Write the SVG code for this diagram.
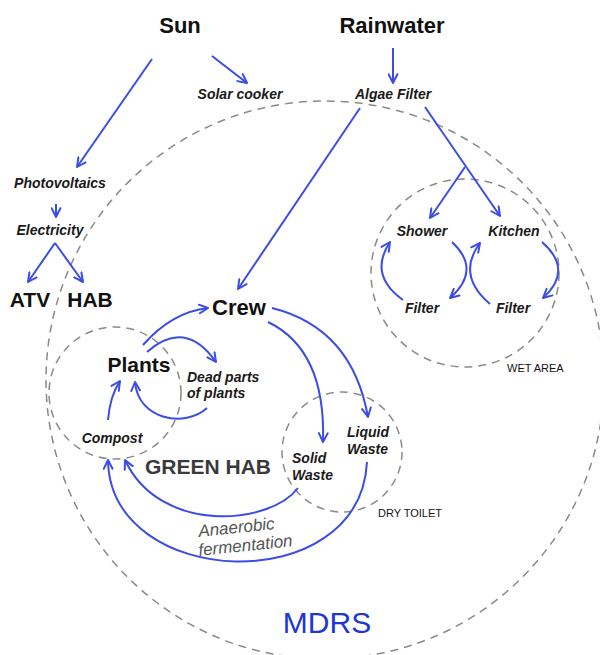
<svg xmlns="http://www.w3.org/2000/svg" width="600" height="655" viewBox="0 0 600 655">
<defs>
<style>
.bg{fill:#ffffff}
.zone{fill:none;stroke:#8a8a8a;stroke-width:1.5;stroke-dasharray:8 6}
.arr{fill:none;stroke:#3a4de4;stroke-width:2;marker-end:url(#ah)}
.big{font-family:"Liberation Sans",Arial,sans-serif;font-weight:bold;font-size:21px;fill:#111;text-anchor:middle}
.top{font-size:22px}
.lbl{font-family:"Liberation Sans",Arial,sans-serif;font-weight:bold;font-style:italic;font-size:14px;fill:#1a1a1a;text-anchor:middle}
.lbls{font-family:"Liberation Sans",Arial,sans-serif;font-weight:bold;font-style:italic;font-size:14px;fill:#1a1a1a}
.area{font-family:"Liberation Sans",Arial,sans-serif;font-size:11px;fill:#111}
.green{font-family:"Liberation Sans",Arial,sans-serif;font-weight:bold;font-size:21px;fill:#3a3a3a;text-anchor:middle}
.ferm{font-family:"Liberation Sans",Arial,sans-serif;font-style:italic;font-size:17px;fill:#555;text-anchor:middle}
.mdrs{font-family:"Liberation Sans",Arial,sans-serif;font-size:30px;fill:#2036d8;text-anchor:middle}
</style>
<marker id="ah" viewBox="0 0 10 10" refX="9" refY="5" markerWidth="11" markerHeight="11" markerUnits="userSpaceOnUse" orient="auto">
<path d="M1,1 L9,5 L1,9" fill="none" stroke="#3a4de4" stroke-width="1.8" stroke-linecap="round" stroke-linejoin="round"/>
</marker>
</defs>
<rect class="bg" x="0" y="0" width="600" height="655"/>

<g id="zones">
<circle id="mdrs-zone" class="zone" cx="325" cy="380" r="279"/>
<circle id="wet-zone" class="zone" cx="465" cy="273" r="94"/>
<circle id="green-zone" class="zone" cx="115" cy="393" r="66"/>
<circle id="toilet-zone" class="zone" cx="342" cy="452" r="60"/>
</g>

<g id="connectors">
<path class="arr" d="M152,59 L77,167"/>
<path class="arr" d="M212,56 L247,83"/>
<path class="arr" d="M56,204 L56,217"/>
<path class="arr" d="M55,243 L28,282"/>
<path class="arr" d="M55,243 L83,282"/>
<path class="arr" d="M393,48 L393,83"/>
<path class="arr" d="M360,108 L238,289"/>
<path class="arr" d="M425,107 L500,216"/>
<path class="arr" d="M465,167 L430,218"/>
<path class="arr" d="M403,300 Q368,275 390,242"/>
<path class="arr" d="M452,242 Q482,270 450,298"/>
<path class="arr" d="M490,304 Q456,275 480,243"/>
<path class="arr" d="M542,242 Q574,270 543,298"/>
<path class="arr" d="M143,345 Q172,312 208,308"/>
<path class="arr" d="M147,352 Q185,318 216,362"/>
<path class="arr" d="M207,408 C185,428 138,420 135,382"/>
<path class="arr" d="M108,420 Q110,396 120,381"/>
<path class="arr" d="M272,308 Q352,328 368,417"/>
<path class="arr" d="M268,322 Q326,350 323,442"/>
<path class="arr" d="M298,488 C270,525 160,535 125,460"/>
<path class="arr" d="M367,462 C360,600 110,590 108,460"/>
</g>

<g id="sun"><text class="big top" x="180" y="33">Sun</text></g>
<g id="rainwater"><text class="big top" x="392" y="33">Rainwater</text></g>
<g id="solar-cooker"><text class="lbl" x="240" y="99">Solar cooker</text></g>
<g id="algae-filter"><text class="lbl" x="393" y="99">Algae Filter</text></g>
<g id="photovoltaics"><text class="lbl" x="60" y="188">Photovoltaics</text></g>
<g id="electricity"><text class="lbl" x="50" y="235">Electricity</text></g>
<g id="atv"><text class="big" x="30" y="307">ATV</text></g>
<g id="hab"><text class="big" x="90" y="307">HAB</text></g>
<g id="crew"><text class="big top" x="239" y="315">Crew</text></g>
<g id="plants"><text class="big" x="139" y="372">Plants</text></g>
<g id="dead-parts"><text class="lbls" x="187" y="382">Dead parts</text><text class="lbls" x="187" y="398">of plants</text></g>
<g id="compost"><text class="lbl" x="112" y="443">Compost</text></g>
<g id="green-hab"><text class="green" x="208" y="474">GREEN HAB</text></g>
<g id="solid-waste"><text class="lbls" x="292" y="463">Solid</text><text class="lbls" x="292" y="480">Waste</text></g>
<g id="liquid-waste"><text class="lbls" x="347" y="437">Liquid</text><text class="lbls" x="347" y="454">Waste</text></g>
<g id="dry-toilet"><text class="area" x="378" y="517">DRY TOILET</text></g>
<g id="anaerobic"><text class="ferm" transform="translate(237,533) rotate(-6)">Anaerobic</text><text class="ferm" transform="translate(246,551) rotate(-6)">fermentation</text></g>
<g id="shower"><text class="lbl" x="422" y="236">Shower</text></g>
<g id="kitchen"><text class="lbl" x="514" y="236">Kitchen</text></g>
<g id="filter-1"><text class="lbl" x="422" y="313">Filter</text></g>
<g id="filter-2"><text class="lbl" x="513" y="313">Filter</text></g>
<g id="wet-area"><text class="area" x="507" y="372">WET AREA</text></g>
<g id="mdrs"><text class="mdrs" x="327" y="633">MDRS</text></g>
</svg>
